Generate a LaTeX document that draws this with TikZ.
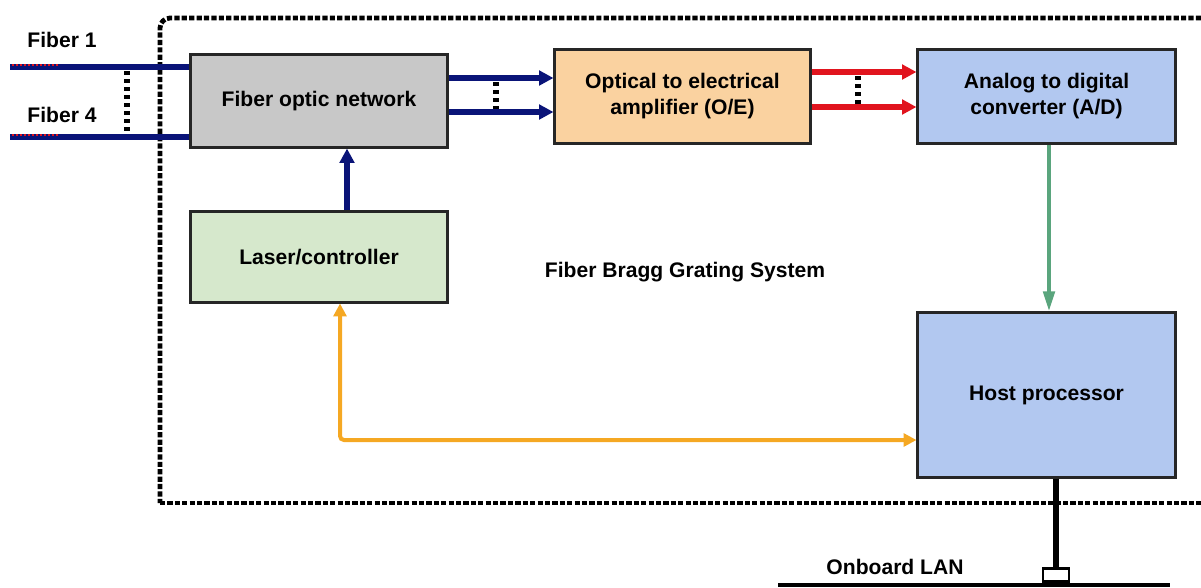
\documentclass[tikz,border=0pt]{standalone}
\usepackage{fontspec}
\setmainfont{Liberation Sans}
\usetikzlibrary{arrows.meta}

\definecolor{fonGray}{RGB}{200,200,200}
\definecolor{oeOrange}{RGB}{250,210,160}
\definecolor{adBlue}{RGB}{178,200,240}
\definecolor{laserGreen}{RGB}{214,232,204}
\definecolor{fiberNavy}{RGB}{10,20,120}
\definecolor{sigRed}{RGB}{225,20,30}
\definecolor{dataGreen}{RGB}{90,165,125}
\definecolor{ctrlOrange}{RGB}{245,168,35}

\begin{document}
\begin{tikzpicture}[x=0.025cm, y=-0.025cm,
	font=\fontsize{15}{18.5}\selectfont\bfseries,
	block/.style={draw=black!85, line width=0.75mm, align=center, inner sep=0pt},
	bound/.style={black, line width=1.2mm, dash pattern=on 1.3mm off 0.55mm},
	link/.style={black, line width=1.4mm, dash pattern=on 1.1mm off 0.9mm},
	fiber/.style={fiberNavy, line width=1.3mm},
	navyarrow/.style={fiberNavy, line width=1.3mm, -{Triangle[length=3.6mm,width=3.6mm]}},
	redarrow/.style={sigRed, line width=1.3mm, -{Triangle[length=3.6mm,width=3.6mm]}}]
\useasboundingbox (0,0) rectangle (1201,587);

% system boundary
\draw[bound, rounded corners=2.5mm] (1201,18) -- (160,18) -- (160,503);
\draw[bound] (160,503) -- (1201,503);

% blocks
\node[block, fill=fonGray, minimum width=6.4cm, minimum height=2.3cm] (fon) at (319,101) {Fiber optic network};
\node[block, fill=oeOrange, minimum width=6.375cm, minimum height=2.325cm] (oe) at (682.5,96.5) {Optical to electrical\\amplifier (O/E)};
\node[block, fill=adBlue, minimum width=6.425cm, minimum height=2.325cm] (ad) at (1046.5,96.5) {Analog to digital\\converter (A/D)};
\node[block, fill=laserGreen, minimum width=6.4cm, minimum height=2.25cm] (laser) at (319,257) {Laser/controller};
\node[block, fill=adBlue, minimum width=6.425cm, minimum height=4.1cm] (host) at (1046.5,395) {Host processor};

\node (fbgs) at (685,272) {Fiber Bragg Grating System};
\node (fib1) at (62,40) {Fiber 1};
\node (fib4) at (62,115) {Fiber 4};
\node (lan) at (895,567) {Onboard LAN};

% fibers in
\coordinate (f1) at (10,67);
\coordinate (f4) at (10,137);
\draw[fiber] (f1) -- (f1 -| fon.west);
\draw[fiber] (f4) -- (f4 -| fon.west);
\foreach \y in {65,135}{
	\draw[sigRed, line width=0.35mm, dash pattern=on 0.5mm off 0.5mm] (12,\y) -- (60,\y);
}
\draw[link] (127,71) -- (127,134);

% optical paths
\foreach \y in {78,112}{
	\draw[navyarrow] (fon.east |- 0,\y) -- (oe.west |- 0,\y);
}
\draw[link] (496,82) -- (496,109);
\foreach \y in {72,107}{
	\draw[redarrow] (oe.east |- 0,\y) -- (ad.west |- 0,\y);
}
\draw[link] (858,76) -- (858,104);

% control and data
\draw[navyarrow] (laser.north -| 347,0) -- (fon.south -| 347,0);
\draw[dataGreen, line width=1mm, -{Triangle[length=5mm,width=2.8mm]}] (ad.south -| 1049,0) -- (host.north -| 1049,0);
\coordinate (bend) at (340,440);
\draw[ctrlOrange, line width=1mm, rounded corners=1mm, {Triangle[length=3.2mm,width=3.2mm]}-{Triangle[length=3.2mm,width=3.2mm]}] (laser.south -| bend) -- (bend) -- (bend -| host.west);

% onboard LAN
\node[draw=black, line width=0.7mm, fill=white, minimum width=0.65cm, minimum height=0.33cm, inner sep=0pt] (tap) at (1056,575) {};
\draw[black, line width=1.4mm] (host.south -| tap.north) -- (tap.north);
\draw[black, line width=1.1mm] (778,585) -- (1170,585);
\end{tikzpicture}
\end{document}
